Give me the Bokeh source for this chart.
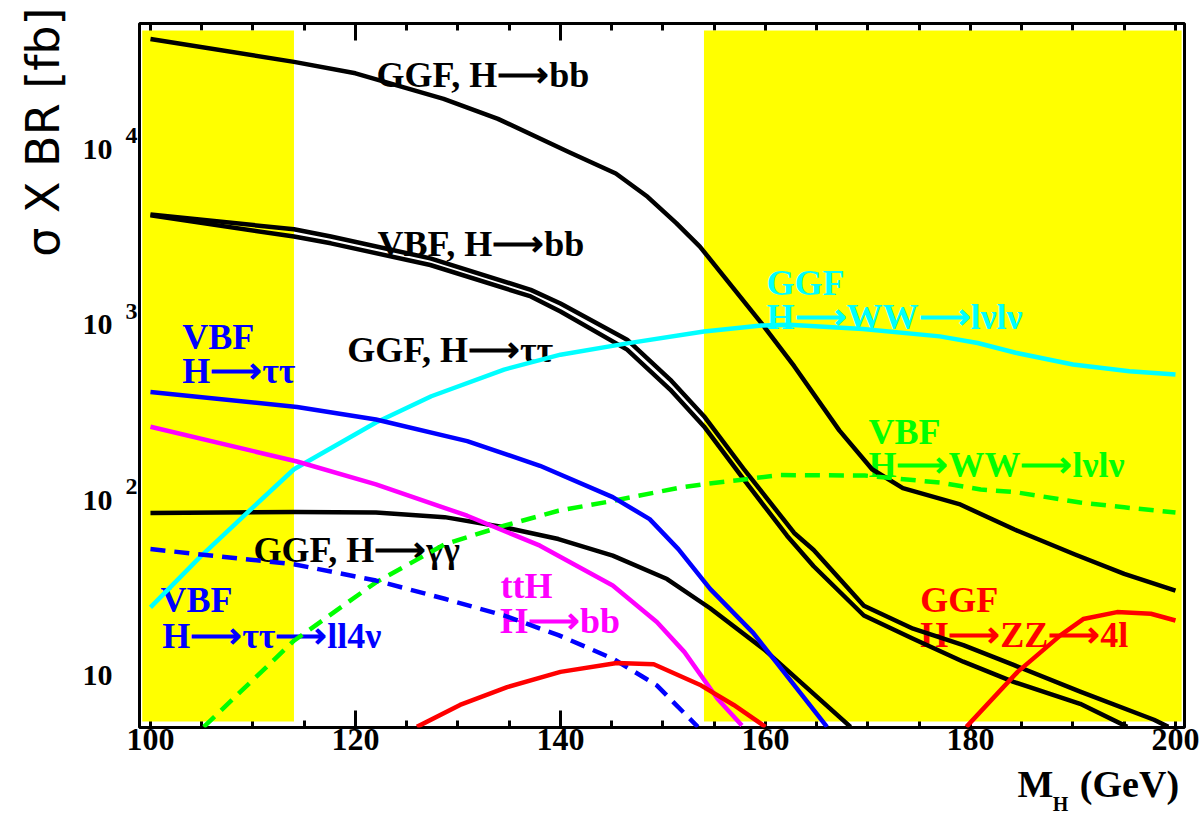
import math
from bokeh.plotting import figure
from bokeh.models import (FixedTicker, LinearAxis, LogAxis, ColumnDataSource,
                          CustomJSTickFormatter, Title)
from bokeh.core.properties import value
from bokeh.embed import file_html
from bokeh.resources import INLINE

NAN = float("nan")

# ---- cross section x branching ratio [fb] versus Higgs mass [GeV] ----
mass_ggf_bb = [100, 114, 120, 128.6, 133.9, 140.8, 145.4, 148.5, 151.3, 153.6,
               159.6, 162.8, 167.2, 170.4, 173.4, 178.9, 184.3, 190.2, 195, 200]
xs_ggf_bb = [42500, 31500, 27100, 19400, 14900, 9660, 7280, 5360, 3790, 2790,
             1020, 580, 250, 150, 117, 95, 68, 49, 38, 30.5]

mass_vbf_bb = [100, 114, 117.6, 127.3, 137.1, 140, 146.5, 150.7, 154, 157.9, 162.8,
               164.7, 169.6, 174.4, 179.3, 184.2, 190.7, 197.9, 199.3]
xs_vbf_bb = [4250, 3500, 3180, 2390, 1580, 1320, 822, 487, 301, 150, 65,
             52, 25, 18.5, 14.9, 11.5, 8.1, 5.6, 5.1]

mass_ggf_tautau = [100, 114, 117.6, 127.3, 137.1, 140, 146.5, 150.7, 154, 157.9, 162.1,
                   164.7, 169.6, 174.4, 179.3, 184.2, 190.7, 195.3]
xs_ggf_tautau = [4200, 3180, 2910, 2190, 1450, 1190, 721, 427, 263, 131, 62.7,
                 42, 22, 16.2, 12, 9.2, 6.9, 5.1]

mass_ggf_ww = [100, 104.9, 109.4, 114, 122, 127.4, 134.5, 140, 146.5, 154, 159.6,
               162.3, 169.5, 177, 180.7, 184.4, 190, 195.5, 200]
xs_ggf_ww = [24.5, 47.8, 84.4, 150, 277, 391, 555, 675, 783, 915, 990,
             1000, 945, 858, 787, 692, 593, 543, 520]

mass_vbf_ww = [105.2, 114, 122, 128.7, 134.5, 139.8, 145.1, 151.7, 154.3, 161.5,
               169.7, 177, 181, 184.4, 190.7, 195, 200]
xs_vbf_ww = [5.1, 15.8, 34, 56, 71.5, 87, 99, 118, 124, 139,
             138, 126, 115, 111, 97, 91, 85]

mass_vbf_tautau = [100, 114.3, 122, 130.9, 138, 145.1, 148.7, 151.5, 154.6, 158.8, 166]
xs_vbf_tautau = [413, 340, 288, 217, 157, 104, 78, 52.6, 31.2, 17.5, 5.1]

mass_vbf_tautau_ll = [100, 114.1, 122, 128.7, 134.5, 139.8, 145.1, 149.4, 153.4]
xs_vbf_tautau_ll = [52.6, 43, 34.8, 27.4, 22, 17, 12.5, 8.8, 5.1]

mass_tth_bb = [100, 114.3, 122, 130.9, 138, 145.1, 149.4, 152.1, 155.3, 157.7]
xs_tth_bb = [262, 166, 123, 81.5, 55, 32.6, 20.2, 13.6, 7.4, 5.2]

mass_ggf_gamgam = [100, 114.1, 122, 128.7, 134.5, 139.8, 145.1, 150.4, 154.6, 159.8, 168.3]
xs_ggf_gamgam = [84.5, 85.6, 85, 80, 70, 60, 48.3, 35.5, 24.2, 14.2, 5.1]

# H -> ZZ -> 4l drops below the plotted range between the two branches
mass_ggf_zz = [126, 130.2, 134.8, 140, 145.5, 149.1, 153.7, 156.9, 160, NAN,
               179.6, 184.6, 188.8, 191, 194.3, 197.6, 200]
xs_ggf_zz = [5.1, 6.8, 8.6, 10.5, 11.8, 11.6, 8.8, 6.8, 5.1, NAN,
             5.1, 10.5, 17, 21, 23, 22.5, 20.6]

# shaded mass windows
band_lo = [99.2, 154]
band_hi = [114, 200.6]

# curve labels
ARROW = "\u27f6"
label_text = ["GGF, H" + ARROW + "bb", "VBF, H" + ARROW + "bb", "GGF, H" + ARROW + "\u03c4\u03c4",
              "VBF", "H" + ARROW + "\u03c4\u03c4",
              "GGF, H" + ARROW + "\u03b3\u03b3",
              "VBF", "H" + ARROW + "\u03c4\u03c4" + ARROW + "ll4\u03bd",
              "ttH", "H" + ARROW + "bb",
              "GGF", "H" + ARROW + "WW" + ARROW + "l\u03bdl\u03bd",
              "VBF", "H" + ARROW + "WW" + ARROW + "l\u03bdl\u03bd",
              "GGF", "H" + ARROW + "ZZ" + ARROW + "4l"]
label_x = [122.05, 122.15, 119.2,
           103.1, 103.1,
           110.05,
           100.98, 101.14,
           134.15, 134.1,
           160.1, 160.1,
           170.05, 170.05,
           175.1, 175.1]
label_y = [26340, 2876, 721,
           853, 547,
           52.1,
           27.1, 16.9,
           32.5, 20.4,
           1718, 1109,
           245, 159,
           27.1, 17.1]
label_color = ["black", "black", "black",
               "#0000ff", "#0000ff",
               "black",
               "#0000ff", "#0000ff",
               "#ff00ff", "#ff00ff",
               "#00ffff", "#00ffff",
               "#00ff00", "#00ff00",
               "#ff0000", "#ff0000"]

x_ticks = [100, 120, 140, 160, 180, 200]
x_minor = [105, 110, 115, 125, 130, 135, 145, 150, 155, 165, 170, 175, 185, 190, 195]
y_ticks = [10, 100, 1000, 10000]
y_exponents = ["2", "3", "4"]

SERIF = "Liberation Serif"

p = figure(width=1200, height=817,
           x_range=(98.93, 200.88), y_range=(10 ** 0.704, 10 ** 4.717),
           y_axis_type="log", x_axis_location=None, y_axis_location=None,
           output_backend="svg", toolbar_location=None,
           min_border_left=139, min_border_right=16,
           min_border_top=23, min_border_bottom=89,
           background_fill_color="white", border_fill_color="white",
           outline_line_color="black", outline_line_width=3)
p.grid.visible = False


def tick_axis():
    """Inward ticks only; drawn beneath the shaded bands."""
    ax = LinearAxis(ticker=FixedTicker(ticks=x_ticks, minor_ticks=x_minor),
                    formatter=CustomJSTickFormatter(code="return '';"))
    ax.level = "underlay"
    ax.axis_line_color = None
    ax.major_tick_in = 17
    ax.major_tick_out = 0
    ax.minor_tick_in = 7
    ax.minor_tick_out = 0
    ax.major_tick_line_width = 3
    ax.minor_tick_line_width = 3
    ax.major_label_text_font_size = "1px"
    ax.major_label_standoff = 0
    return ax


def text_axis(cls, ticks, names, size, standoff, font=SERIF, style="bold"):
    """Axis that only carries text at fixed positions."""
    ax = cls(ticker=FixedTicker(ticks=ticks, minor_ticks=[]),
             formatter=CustomJSTickFormatter(args=dict(names=names),
                                             code="return names[index];"))
    ax.axis_line_color = None
    ax.major_tick_line_color = None
    ax.minor_tick_line_color = None
    ax.major_tick_in = 0
    ax.major_tick_out = 0
    ax.minor_tick_in = 0
    ax.minor_tick_out = 0
    ax.major_label_text_font = font
    ax.major_label_text_font_style = style
    ax.major_label_text_font_size = size
    ax.major_label_text_color = "black"
    ax.major_label_standoff = standoff
    return ax


# bottom: ticks, tick values, the subscript, then the title M (GeV)
p.add_layout(tick_axis(), "below")
p.add_layout(text_axis(LinearAxis, x_ticks, [str(t) for t in x_ticks], "32px", 1), "below")
p.add_layout(text_axis(LinearAxis, [188.78], ["H"], "20px", 40), "below")
p.add_layout(text_axis(LinearAxis, [186.34, 195.51], ["M", "(GeV)"], "38px", -55), "below")
# top: ticks only
p.add_layout(tick_axis(), "above")

# left: decade exponents, mantissas, then the title
p.add_layout(text_axis(LogAxis, [10 ** (float(e) + 0.076) for e in y_exponents],
                       y_exponents, "24px", 2), "left")
p.add_layout(text_axis(LogAxis, y_ticks, ["10"] * len(y_ticks), "30px", 10), "left")
p.add_layout(Title(text="\u03c3 X BR [fb]", align="right", offset=-16,
                   vertical_align="bottom", standoff=20,
                   text_font="DejaVu Sans", text_font_size="46px",
                   text_font_style="normal", text_color="black"), "left")

# shaded mass windows
p.quad(left=band_lo, right=band_hi, bottom=10 ** 0.738, top=10 ** 4.677,
       fill_color="#ffff00", line_color=None)

# curve labels (under the curves)
labels = ColumnDataSource(dict(x=label_x, y=label_y, text=label_text, color=label_color))
p.text(x="x", y="y", text="text", text_color="color", source=labels,
       text_font=value(SERIF), text_font_style="bold", text_font_size="36px",
       text_align="left", text_baseline="alphabetic")

LW = 4.5


def curve(xs, ys, color, dash="solid"):
    p.line(xs, ys, line_color=color, line_width=LW, line_dash=dash,
           line_join="round")


curve(mass_ggf_bb, xs_ggf_bb, "black")
curve(mass_vbf_bb, xs_vbf_bb, "black")
curve(mass_ggf_tautau, xs_ggf_tautau, "black")
curve(mass_ggf_gamgam, xs_ggf_gamgam, "black")
curve(mass_ggf_ww, xs_ggf_ww, "#00ffff")
curve(mass_vbf_ww, xs_vbf_ww, "#00ff00", "15 9")
curve(mass_vbf_tautau, xs_vbf_tautau, "#0000ff")
curve(mass_vbf_tautau_ll, xs_vbf_tautau_ll, "#0000ff", "15 9")
curve(mass_tth_bb, xs_tth_bb, "#ff00ff")
curve(mass_ggf_zz, xs_ggf_zz, "#ff0000")

open("out.html", "w").write(file_html(p, INLINE))
